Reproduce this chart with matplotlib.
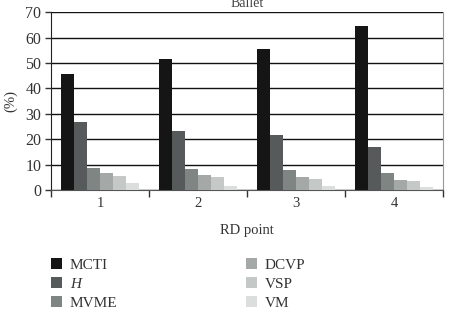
import matplotlib
matplotlib.use("Agg")
import matplotlib.pyplot as plt
import numpy as np
from matplotlib.patches import Patch

categories = ["1", "2", "3", "4"]
series_names = ["MCTI", "H", "MVME", "DCVP", "VSP", "VM"]
mcti = [45.6, 51.7, 55.5, 64.8]
h = [26.6, 23.4, 21.8, 16.8]
mvme = [8.8, 8.4, 7.8, 6.8]
dcvp = [6.6, 5.9, 5.0, 4.0]
vsp = [5.6, 5.0, 4.4, 3.4]
vm = [2.8, 1.7, 1.7, 1.1]
values = [mcti, h, mvme, dcvp, vsp, vm]
colors = ["#151515", "#575a5a", "#7f8583", "#a4a8a7", "#c4c8c7", "#dcdede"]
yticks = [0, 10, 20, 30, 40, 50, 60, 70]

plt.rcParams["font.family"] = ["Liberation Serif", "DejaVu Serif"]
plt.rcParams["font.size"] = 10.5
fig = plt.figure(figsize=(4.49, 3.14), dpi=100)
ax = fig.add_axes([51/449, 1-190/314, (443-51)/449, (190-12.3)/314])

n = len(series_names)
bw = 0.8 / n
x = np.arange(len(categories))
for i, (vals, c) in enumerate(zip(values, colors)):
    ax.bar(x - 0.4 + bw*(i+0.5), vals, width=bw, color=c, zorder=3, label=series_names[i])

ax.set_xlim(-0.5, len(categories)-0.5)
ax.set_ylim(0, 70)
ax.set_yticks(yticks)
ax.yaxis.grid(True, color="#111111", lw=1.0, zorder=0)
ax.set_xticks(np.arange(len(categories)+1) - 0.5)
ax.set_xticklabels([])
ax.set_xticks(x, minor=True)
ax.set_xticklabels(categories, minor=True)
ax.tick_params(axis="x", which="major", length=5, width=1, color="#333333", direction="out")
ax.tick_params(axis="x", which="minor", length=0, pad=5, labelcolor="#333333", labelsize=10.5)
ax.tick_params(axis="y", length=4, width=1, color="#333333", labelcolor="#333333", labelsize=11.5, pad=3)
for s in ["top"]:
    ax.spines[s].set_visible(False)
ax.spines["left"].set_color("#222222")
ax.spines["right"].set_color("#999999")
ax.spines["bottom"].set_color("#555555")
ax.set_xlabel("RD point", color="#333333", labelpad=10)
ax.set_ylabel("(%)", color="#333333", labelpad=6)
ax.set_title("Ballet", color="#444444", pad=4, fontsize=10)

handles = [Patch(facecolor=c, edgecolor="none") for c in colors]
leg = fig.legend(handles, series_names, ncol=2, loc="upper left",
                 bbox_to_anchor=(37/449, 1-244/314), frameon=False,
                 handlelength=0.75, handleheight=0.75, handletextpad=0.5,
                 columnspacing=8.4, labelspacing=0.35, fontsize=11)
for t in leg.get_texts():
    t.set_color("#333333")
    if t.get_text() == "H":
        t.set_fontstyle("italic")

fig.savefig("out.png", dpi=100)
